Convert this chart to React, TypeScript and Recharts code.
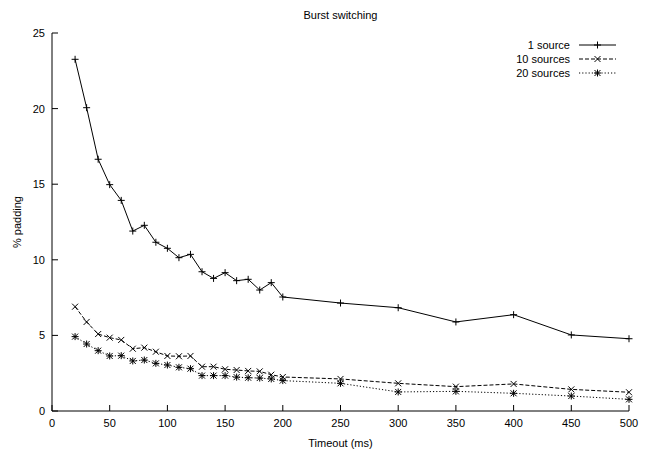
import { LineChart, Line, XAxis, YAxis, Legend } from 'recharts';

const timeouts = [20, 30, 40, 50, 60, 70, 80, 90, 100, 110, 120, 130, 140, 150, 160, 170, 180, 190, 200, 250, 300, 350, 400, 450, 500];
const oneSource = [23.26, 20.06, 16.65, 14.97, 13.93, 11.9, 12.28, 11.16, 10.76, 10.14, 10.36, 9.21, 8.77, 9.15, 8.62, 8.71, 8.0, 8.49, 7.54, 7.14, 6.83, 5.89, 6.37, 5.03, 4.78];
const tenSources = [6.9, 5.89, 5.09, 4.85, 4.7, 4.12, 4.19, 3.92, 3.64, 3.62, 3.64, 2.93, 2.93, 2.76, 2.71, 2.65, 2.62, 2.4, 2.25, 2.12, 1.83, 1.61, 1.79, 1.43, 1.24];
const twentySources = [4.92, 4.43, 3.99, 3.64, 3.66, 3.31, 3.37, 3.15, 3.04, 2.89, 2.8, 2.34, 2.34, 2.34, 2.24, 2.2, 2.18, 2.12, 2.01, 1.83, 1.26, 1.3, 1.17, 0.99, 0.77];

const xTicks = [0, 50, 100, 150, 200, 250, 300, 350, 400, 450, 500];
const yTicks = [0, 5, 10, 15, 20, 25];

const data = timeouts.map((t, i) => ({
  t,
  one: oneSource[i],
  ten: tenSources[i],
  twenty: twentySources[i],
}));

const font = '"Liberation Sans", Arial, Helvetica, sans-serif';
const tickStyle = { fill: '#000', fontSize: 11, fontFamily: font };

type Shape = 'plus' | 'cross' | 'star';

function markPath(shape: Shape, cx: number, cy: number) {
  const plus = `M${cx - 3.5},${cy}h7M${cx},${cy - 3.5}v7`;
  const cross = `M${cx - 3},${cy - 3}l6,6M${cx - 3},${cy + 3}l6,-6`;
  if (shape === 'plus') return plus;
  if (shape === 'cross') return cross;
  return plus + cross;
}

const makeDot = (shape: Shape) => (props: any) => {
  const { cx, cy, index } = props;
  if (cx == null || cy == null) return <g key={index} />;
  return <path key={index} d={markPath(shape, cx, cy)} stroke="#000" strokeWidth={1} fill="none" />;
};

const series = [
  { key: 'one', name: '1 source', dash: undefined, shape: 'plus' as Shape },
  { key: 'ten', name: '10 sources', dash: '4 2', shape: 'cross' as Shape },
  { key: 'twenty', name: '20 sources', dash: '1.2 2', shape: 'star' as Shape },
];

function LegendBox() {
  return (
    <div style={{ fontFamily: font, fontSize: 11, color: '#000' }}>
      {series.map((s) => (
        <div key={s.key} style={{ display: 'flex', justifyContent: 'flex-end', alignItems: 'center', height: 14 }}>
          <span>{s.name}</span>
          <svg width={39} height={10} style={{ marginLeft: 8 }}>
            <line x1={1} x2={38} y1={5} y2={5} stroke="#000" strokeWidth={1} strokeDasharray={s.dash} />
            <path d={markPath(s.shape, 19.5, 5)} stroke="#000" strokeWidth={1} fill="none" />
          </svg>
        </div>
      ))}
    </div>
  );
}

export default function App() {
  return (
    <div style={{ position: 'absolute', left: 0, top: 0, width: 647, height: 449, background: '#fff' }}>
      <div
        style={{
          position: 'absolute', left: 52, width: 577, top: 8, lineHeight: '14px',
          textAlign: 'center', fontFamily: font, fontSize: 11, color: '#000',
        }}
      >
        Burst switching
      </div>
      <LineChart width={647} height={449} data={data} margin={{ top: 33, right: 18, bottom: 0, left: 0 }}>
        <XAxis
          dataKey="t"
          type="number"
          domain={[0, 500]}
          ticks={xTicks}
          height={38}
          tick={tickStyle}
          tickSize={-6}
          tickMargin={14}
          axisLine={{ stroke: '#000' }}
          tickLine={{ stroke: '#000' }}
          label={{ value: 'Timeout (ms)', position: 'insideBottom', offset: 2, fill: '#000', fontSize: 11, fontFamily: font }}
        />
        <XAxis
          xAxisId="top"
          orientation="top"
          type="number"
          domain={[0, 500]}
          allowDataOverflow
          ticks={xTicks}
          height={0}
          tick={() => <g />}
          tickSize={-6}
          axisLine={{ stroke: '#000' }}
          tickLine={{ stroke: '#000' }}
        />
        <YAxis
          type="number"
          domain={[0, 25]}
          ticks={yTicks}
          width={52}
          tick={tickStyle}
          tickSize={-6}
          tickMargin={13}
          axisLine={{ stroke: '#000' }}
          tickLine={{ stroke: '#000' }}
          label={{
            value: '% padding',
            content: () => (
              <text
                x={17}
                y={222}
                transform="rotate(-90 17 222)"
                textAnchor="middle"
                dominantBaseline="central"
                fill="#000"
                fontSize={11}
                fontFamily={font}
              >
                % padding
              </text>
            ),
          }}
        />
        <YAxis
          yAxisId="right"
          orientation="right"
          type="number"
          domain={[0, 25]}
          allowDataOverflow
          ticks={yTicks}
          width={0}
          tick={() => <g />}
          tickSize={-6}
          axisLine={{ stroke: '#000' }}
          tickLine={{ stroke: '#000' }}
        />
        <Legend
          layout="horizontal"
          verticalAlign="middle"
          align="center"
          content={() => <LegendBox />}
          wrapperStyle={{ position: 'absolute', top: 38, right: 30, left: 'auto', width: 'auto' }}
        />
        {series.map((s) => (
          <Line
            key={s.key}
            dataKey={s.key}
            name={s.name}
            type="linear"
            stroke="#000"
            strokeWidth={1}
            strokeDasharray={s.dash}
            dot={makeDot(s.shape)}
            activeDot={false}
            isAnimationActive={false}
          />
        ))}
      </LineChart>
    </div>
  );
}
